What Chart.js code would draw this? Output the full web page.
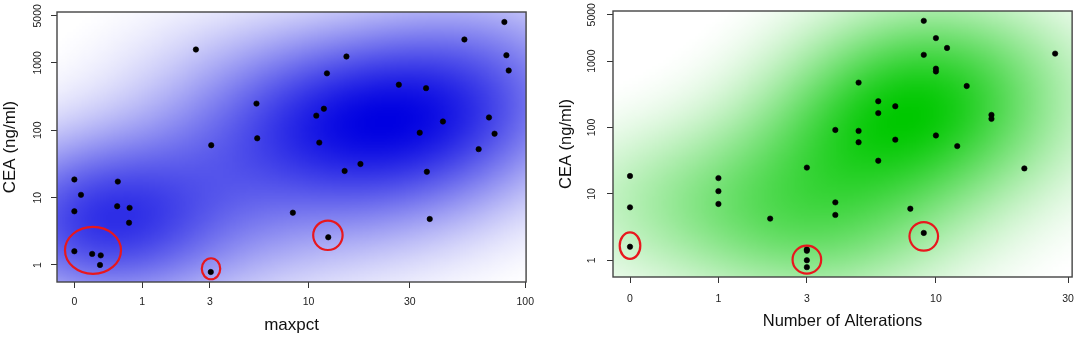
<!DOCTYPE html>
<html>
<head>
<meta charset="utf-8">
<script src="https://cdn.jsdelivr.net/npm/chart.js@4.4.1/dist/chart.umd.min.js"></script>
<style>
  html, body { margin: 0; padding: 0; background: #fff; }
  #wrap { position: relative; width: 1084px; height: 340px; }
  .panel { position: absolute; top: 0; width: 542px; height: 340px; }
</style>
</head>
<body>
<div id="wrap">
  <div class="panel" style="left:0"><canvas id="maxpctChart" width="542" height="340"></canvas></div>
  <div class="panel" style="left:542px"><canvas id="alterChart" width="542" height="340"></canvas></div>
</div>
<script>
// ─── Data (one entry per sample) ───
const ceaValues = [4050, 2228, 1581, 1300, 1245, 771, 700, 475, 422, 249,
                   209, 165, 155, 135, 92, 89, 76, 65.6, 60, 52.5,
                   31.6, 24.9, 24.2, 18.6, 17.3, 11.0, 7.45, 7.05, 6.27, 5.98,
                   4.82, 4.24, 2.58, 1.6, 1.46, 1.39, 1.0, 0.787];
const maxpctValues = [80.6, 53.2, 2.47, 82.3, 15.2, 84.3, 12.27, 26.7, 35.6, 5.45,
                      11.86, 10.9, 68.7, 42.5, 33.3, 72.8, 5.5, 11.27, 3.06, 61.7,
                      17.7, 14.9, 35.9, 0, 0.56, 0.07, 0.55, 0.76, 0, 8.36,
                      37, 0.75, 12.45, 0, 0.2, 0.31, 0.3, 3.04];
const alterationValues = [9, 10, 11, 27, 9, 10, 10, 5, 13, 6,
                          7, 6, 16, 16, 4, 5, 10, 7, 5, 12,
                          6, 3, 21, 0, 1, 1, 4, 1, 0, 8,
                          4, 2, 9, 0, 3, 3, 3, 3];

// ─── Tick labels ───
const maxpctTicks = [0, 1, 3, 10, 30, 100];
const alterationTicks = [0, 1, 3, 10, 30];
const ceaTicks = [1, 10, 100, 1000, 5000];

// ─── Red highlight rings (centres in data units) ───
const maxpctRingX = [0.21, 3.05, 12.4];
const maxpctRingY = [1.65, 0.88, 2.76];
const alterRingX = [0, 3, 9];
const alterRingY = [1.66, 1.02, 2.29];

const FONT = '"Liberation Sans", Arial, Helvetica, sans-serif';
const log1p10 = v => Math.log10(v + 1);

// R style axis limits: data range stretched by 4% on each side
function rRange(vals) {
    const lo = Math.min(...vals), hi = Math.max(...vals);
    const d = (hi - lo) * 0.04;
    return [lo - d, hi + d];
}

// ─── plugin: smoothed density background, frame, y labels, red rings ───
const decorPlugin = {
    id: 'decor',
    beforeDatasetsDraw(chart, args, o) {
        const { ctx, chartArea: a, scales: { x, y } } = chart;
        const pts = chart.data.datasets[0].data.map(p => [
            (x.getPixelForValue(p.x) - a.left) / a.width,
            (y.getPixelForValue(p.y) - a.top) / a.height
        ]);
        const nx = 160, ny = 90;
        const grid = new Float32Array(nx * ny);
        let dmax = 0;
        for (let j = 0; j < ny; j++) {
            for (let i = 0; i < nx; i++) {
                const u = (i + 0.5) / nx, v = (j + 0.5) / ny;
                let d = 0;
                pts.forEach(([pu, pv]) => {
                    const du = (u - pu) / o.hx, dv = (v - pv) / o.hy;
                    d += Math.exp(-0.5 * (du * du + dv * dv));
                });
                grid[j * nx + i] = d;
                if (d > dmax) dmax = d;
            }
        }
        const off = document.createElement('canvas');
        off.width = nx; off.height = ny;
        const octx = off.getContext('2d');
        const img = octx.createImageData(nx, ny);
        const [cr, cg, cb] = o.ramp;
        for (let k = 0; k < nx * ny; k++) {
            const r = Math.max(0, (grid[k] / dmax - o.floor) / (1 - o.floor));
            const t = Math.pow(r, o.gamma);
            img.data[k * 4] = 255 + (cr - 255) * t;
            img.data[k * 4 + 1] = 255 + (cg - 255) * t;
            img.data[k * 4 + 2] = 255 + (cb - 255) * t;
            img.data[k * 4 + 3] = 255;
        }
        octx.putImageData(img, 0, 0);
        ctx.save();
        ctx.imageSmoothingEnabled = true;
        ctx.drawImage(off, a.left, a.top, a.width, a.height);
        ctx.restore();
    },
    afterDatasetsDraw(chart, args, o) {
        const { ctx, scales: { x, y } } = chart;
        ctx.save();
        ctx.strokeStyle = '#e8171d';
        ctx.lineWidth = 2.2;
        o.ringX.forEach((rx, i) => {
            const cx = x.getPixelForValue(log1p10(rx));
            const cy = y.getPixelForValue(o.ringY[i]);
            ctx.beginPath();
            ctx.ellipse(cx, cy, o.radii[i][0], o.radii[i][1], 0, 0, Math.PI * 2);
            ctx.stroke();
        });
        ctx.restore();
    },
    afterDraw(chart, args, o) {
        const { ctx, chartArea: a, scales: { y } } = chart;
        ctx.save();
        ctx.strokeStyle = '#444';
        ctx.lineWidth = 1.4;
        ctx.strokeRect(a.left, a.top, a.width, a.height);
        ctx.font = '10.5px ' + FONT;
        ctx.fillStyle = '#222';
        ctx.textAlign = 'center';
        ctx.textBaseline = 'middle';
        ceaTicks.forEach(v => {
            ctx.save();
            ctx.translate(a.left - o.yLabelGap, y.getPixelForValue(v));
            ctx.rotate(-Math.PI / 2);
            ctx.fillText(String(v), 0, 0);
            ctx.restore();
        });
        ctx.restore();
    }
};

function makePanel(id, xValues, xTicks, xTitle, ringX, ringY, look) {
    const points = xValues.map((v, i) => ({ x: log1p10(v), y: ceaValues[i] }));
    const [xMin, xMax] = rRange(xValues.map(log1p10));
    const [yMin, yMax] = rRange(ceaValues.map(Math.log10));

    new Chart(document.getElementById(id), {
        type: 'scatter',
        data: {
            datasets: [{
                data: points,
                pointRadius: 2.7,
                pointBackgroundColor: '#000',
                pointBorderColor: '#000',
                pointBorderWidth: 0.6
            }]
        },
        options: {
            responsive: false,
            animation: false,
            devicePixelRatio: 1,
            layout: { padding: { top: look.padTop, right: look.padRight, left: 0, bottom: 0 } },
            scales: {
                x: {
                    type: 'linear',
                    min: xMin,
                    max: xMax,
                    afterBuildTicks: ax => { ax.ticks = xTicks.map(v => ({ value: log1p10(v) })); },
                    afterFit: ax => { ax.height = look.xAxisHeight; },
                    ticks: {
                        autoSkip: false,
                        maxRotation: 0,
                        padding: look.xTickPad,
                        color: '#222',
                        font: { family: FONT, size: 10.5 },
                        callback: (val, i) => String(xTicks[i])
                    },
                    grid: { drawOnChartArea: false, drawTicks: true, tickLength: 6, color: '#333' },
                    border: { display: false },
                    title: {
                        display: true,
                        text: xTitle,
                        color: '#111',
                        font: { family: FONT, size: look.titleSize },
                        padding: { top: 0, bottom: look.xTitlePad }
                    }
                },
                y: {
                    type: 'logarithmic',
                    min: Math.pow(10, yMin),
                    max: Math.pow(10, yMax),
                    afterBuildTicks: ax => { ax.ticks = ceaTicks.map(v => ({ value: v })); },
                    afterFit: ax => { ax.width = look.yAxisWidth; },
                    ticks: { display: false },
                    grid: { drawOnChartArea: false, drawTicks: true, tickLength: 6, color: '#333' },
                    border: { display: false },
                    title: {
                        display: true,
                        text: 'CEA (ng/ml)',
                        color: '#111',
                        font: { family: FONT, size: look.titleSize },
                        padding: { top: look.yTitlePad, bottom: 0 }
                    }
                }
            },
            plugins: {
                legend: { display: false },
                tooltip: { enabled: false },
                decor: {
                    ramp: look.ramp,
                    hx: 0.2, hy: 0.2, floor: 0.05, gamma: 1.1,
                    ringX: ringX, ringY: ringY, radii: look.radii,
                    yLabelGap: look.yLabelGap
                }
            }
        },
        plugins: [decorPlugin]
    });
}

makePanel('maxpctChart', maxpctValues, maxpctTicks, 'maxpct', maxpctRingX, maxpctRingY, {
    padTop: 12, padRight: 13, yAxisWidth: 57, xAxisHeight: 58,
    xTickPad: 8, xTitlePad: 4, yTitlePad: 0, yLabelGap: 18.6, titleSize: 17,
    ramp: [0, 0, 225],
    radii: [[28, 23.5], [9.2, 10.5], [14.7, 14.7]]
});

makePanel('alterChart', alterationValues, alterationTicks, 'Number of Alterations', alterRingX, alterRingY, {
    padTop: 11, padRight: 6, yAxisWidth: 71, xAxisHeight: 63,
    xTickPad: 10, xTitlePad: 9, yTitlePad: 14.5, yLabelGap: 21.3, titleSize: 16.5,
    ramp: [0, 200, 0],
    radii: [[10.3, 13.3], [14.3, 14], [14.3, 14.3]]
});
</script>
</body>
</html>
